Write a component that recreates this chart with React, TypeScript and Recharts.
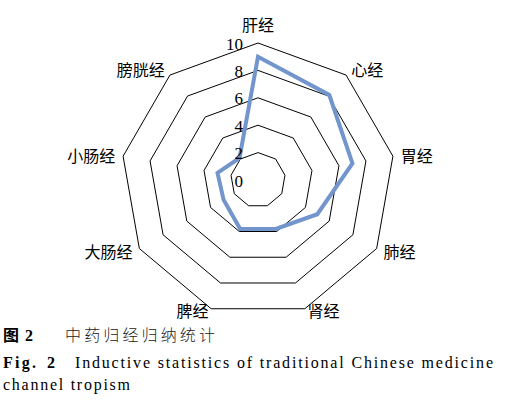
import React from 'react';
import { RadarChart, Radar, PolarGrid, PolarAngleAxis, PolarRadiusAxis } from 'recharts';

const channels = ['肝经', '心经', '胃经', '肺经', '肾经', '脾经', '大肠经', '小肠经', '膀胱经'];
const counts = [9.0, 8.1, 7.0, 5.0, 3.8, 3.8, 2.9, 3.0, 2.1];
const radiusTicks = [0, 2, 4, 6, 8, 10];

const captionCn = '中药归经归纳统计';
const captionFigCn = '图';
const captionNum = '2';
const captionEnPrefix = 'Fig.';
const captionEnLine1 = 'Inductive statistics of traditional Chinese medicine';
const captionEnLine2 = 'channel tropism';

const data = channels.map((c, i) => ({ channel: c, value: counts[i] }));

const CX = 258;
const CY = 180;
const R = 137;

const CJK = '"Noto Sans CJK SC", "Noto Sans", sans-serif';
const SERIF = '"Liberation Serif", serif';

const AngleTick = (props: any) => {
  const { x, y, payload, textAnchor } = props;
  const dx = x - CX;
  const dy = y - CY;
  let ty = y;
  let baseline: any = 'central';
  if (Math.abs(dx) < 1 && dy < 0) {
    baseline = 'auto';
    ty = y - 4;
  } else if (dy > 100) {
    ty = y - 6;
  } else if (dy > 40) {
    ty = y - 2;
  }
  return (
    <text
      x={x}
      y={ty}
      textAnchor={textAnchor}
      dominantBaseline={baseline}
      style={{ fontFamily: CJK }}
      fontSize={16}
      fill="#000"
    >
      {payload.value}
    </text>
  );
};

const RadiusTick = (props: any) => {
  const { x, y, payload } = props;
  return (
    <text
      x={x - 15}
      y={y + 1}
      textAnchor="end"
      dominantBaseline="central"
      style={{ fontFamily: SERIF }}
      fontSize={17}
      fill="#000"
    >
      {payload.value}
    </text>
  );
};

export default function App() {
  return (
    <div
      style={{
        position: 'absolute',
        left: 0,
        top: 0,
        width: 508,
        height: 407,
        background: '#fff',
        overflow: 'hidden',
      }}
    >
      <RadarChart
        width={508}
        height={322}
        data={data}
        cx={CX}
        cy={CY}
        outerRadius={R}
        startAngle={90}
        endAngle={-270}
        margin={{ top: 0, right: 0, bottom: 0, left: 0 }}
      >
        <PolarGrid gridType="polygon" radialLines={false} stroke="#000" strokeWidth={1} />
        <PolarAngleAxis
          dataKey="channel"
          tick={<AngleTick />}
          tickLine={false}
          axisLine={false}
        />
        <PolarRadiusAxis
          angle={90}
          domain={[0, 10]}
          ticks={radiusTicks as any}
          tickCount={6}
          axisLine={false}
          tickLine={false}
          tick={<RadiusTick />}
        />
        <Radar
          dataKey="value"
          stroke="#7295CE"
          strokeWidth={4}
          fill="none"
          fillOpacity={0}
          dot={false}
          isAnimationActive={false}
        />
      </RadarChart>
      <svg
        width={508}
        height={85}
        style={{ position: 'absolute', left: 0, top: 322 }}
      >
        <text x={3} y={19} style={{ fontFamily: CJK }} fontWeight={700} fontSize={16} fill="#000">
          {captionFigCn}
        </text>
        <text x={25} y={19} style={{ fontFamily: SERIF }} fontWeight={700} fontSize={16} fill="#000">
          {captionNum}
        </text>
        <text
          x={65}
          y={19}
          style={{ fontFamily: CJK }}
          fontWeight={300}
          fontSize={16}
          fill="#222"
          textLength={150}
          lengthAdjust="spacing"
        >
          {captionCn}
        </text>
        <text x={3} y={46.3} style={{ fontFamily: SERIF }} fontWeight={700} fontSize={16} fill="#000"
          textLength={33} lengthAdjust="spacing">
          {captionEnPrefix}
        </text>
        <text x={47} y={46.3} style={{ fontFamily: SERIF }} fontWeight={700} fontSize={16} fill="#000">
          {captionNum}
        </text>
        <text
          x={75}
          y={46.3}
          style={{ fontFamily: SERIF }}
          fontSize={16}
          fill="#000"
          textLength={418}
          lengthAdjust="spacing"
        >
          {captionEnLine1}
        </text>
        <text
          x={3}
          y={68}
          style={{ fontFamily: SERIF }}
          fontSize={16}
          fill="#000"
          textLength={127}
          lengthAdjust="spacing"
        >
          {captionEnLine2}
        </text>
      </svg>
    </div>
  );
}
